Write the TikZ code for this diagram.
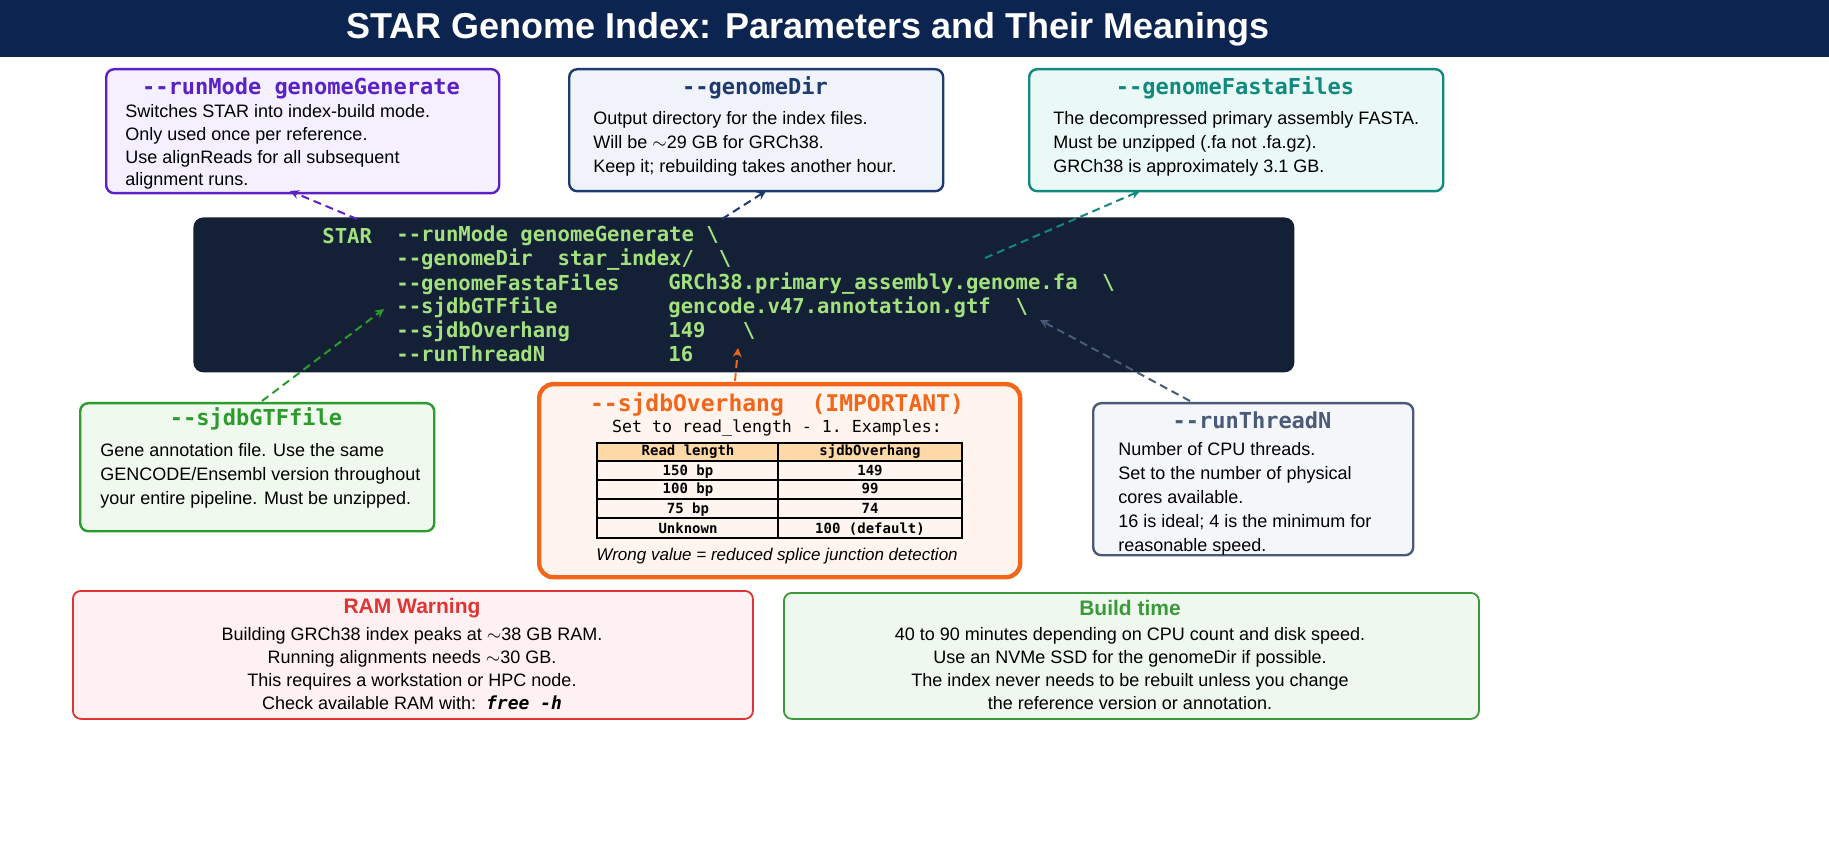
\documentclass[tikz,border=0pt]{standalone}
\usepackage{fontspec}
\setmainfont{Liberation Sans}
\setmonofont{DejaVu Sans Mono}
\usepackage{xcolor}
\usetikzlibrary{positioning}

\definecolor{navy}{HTML}{0B2550}
\definecolor{codebg}{HTML}{132035}
\definecolor{codegreen}{HTML}{A3E07E}
\definecolor{purp}{HTML}{5B21C6}
\definecolor{purpbg}{HTML}{F4F0FF}
\definecolor{dirblue}{HTML}{1E3A6E}
\definecolor{dirbg}{HTML}{F0F4FA}
\definecolor{teal}{HTML}{10897E}
\definecolor{tealbg}{HTML}{EAF8F6}
\definecolor{gtfgreen}{HTML}{2E9B2E}
\definecolor{gtfbg}{HTML}{F0F9EE}
\definecolor{orng}{HTML}{F2661B}
\definecolor{orngbg}{HTML}{FFF5EE}
\definecolor{thead}{HTML}{FDD9A8}
\definecolor{slate}{HTML}{4A5A78}
\definecolor{slatebg}{HTML}{F4F6F9}
\definecolor{ramred}{HTML}{E03434}
\definecolor{rambg}{HTML}{FFF1F1}
\definecolor{bldgreen}{HTML}{3A9A3A}
\definecolor{bldbg}{HTML}{EFF8EE}

\tikzset{
  box/.style={draw=#1, line width=1.2pt, rounded corners=4pt, anchor=north west, inner sep=0pt},
  ttl/.style={font=\ttfamily\bfseries\fontsize{11}{13}\selectfont, text=#1},
  body/.style={font=\fontsize{9}{12}\selectfont, align=left, anchor=north west, inner sep=0pt},
  cbody/.style={font=\fontsize{9}{11.5}\selectfont, align=center, anchor=north, inner sep=0pt},
  code/.style={font=\ttfamily\bfseries\fontsize{10.3}{12}\selectfont, text=codegreen, anchor=west, inner sep=0pt},
  link/.style={draw=#1, line width=1pt, dash pattern=on 4pt off 2.5pt, -stealth},
  cell/.style={font=\ttfamily\bfseries\fontsize{7}{8}\selectfont, inner sep=0pt, anchor=base}
}

\begin{document}
\begin{tikzpicture}[x=0.5pt, y=-0.5pt]
\useasboundingbox (0,0) rectangle (1829,860);
\fill[white] (0,0) rectangle (1829,860);
% title band
\fill[navy] (0,0) rectangle (1829,57);
\node (title) [font=\bfseries\fontsize{18}{20}\selectfont, text=white] at (808,29) {STAR Genome Index: Parameters and Their Meanings};

% top boxes
\node (runmode) [box=purp, fill=purpbg, minimum width=196.5pt, minimum height=62pt] at (105,68) {};
\node [ttl=purp] at (301,88) {--runMode genomeGenerate};
\node [body, font=\fontsize{9}{11.4}\selectfont] at (125,104) {Switches STAR into index-build mode.\\Only used once per reference.\\Use alignReads for all subsequent\\alignment runs.};

\node (gdir) [box=dirblue, fill=dirbg, minimum width=187pt, minimum height=61pt] at (568,68) {};
\node [ttl=dirblue] at (755,88) {--genomeDir};
\node [body] at (593,111) {Output directory for the index files.\\Will be $\sim$29 GB for GRCh38.\\Keep it; rebuilding takes another hour.};

\node (fasta) [box=teal, fill=tealbg, minimum width=207pt, minimum height=61pt] at (1028,68) {};
\node [ttl=teal] at (1235,88) {--genomeFastaFiles};
\node [body] at (1053,111) {The decompressed primary assembly FASTA.\\Must be unzipped (.fa not .fa.gz).\\GRCh38 is approximately 3.1 GB.};

% command block
\node (cmd) [fill=codebg, rounded corners=5pt, anchor=north west, minimum width=550.5pt, minimum height=77.5pt, inner sep=0pt] at (193,217) {};
\node [code] at (322,236) {STAR};
\node [code] at (396,236) {--runMode genomeGenerate \textbackslash};
\node [code] at (396,260) {--genomeDir\ \ star\_index/\ \ \textbackslash};
\node [code] at (396,284) {--genomeFastaFiles};
\node [code] at (668,284) {GRCh38.primary\_assembly.genome.fa\ \ \textbackslash};
\node [code] at (396,307) {--sjdbGTFfile};
\node [code] at (668,307) {gencode.v47.annotation.gtf\ \ \textbackslash};
\node [code] at (396,331) {--sjdbOverhang};
\node [code] at (668,331) {149\ \ \ \textbackslash};
\node [code] at (396,354) {--runThreadN};
\node [code] at (668,354) {16};

% middle boxes
\node (gtf) [box=gtfgreen, fill=gtfbg, minimum width=177pt, minimum height=64pt] at (79,402) {};
\node [ttl=gtfgreen] at (256,419) {--sjdbGTFfile};
\node [body] at (100,443) {Gene annotation file. Use the same\\GENCODE/Ensembl version throughout\\your entire pipeline. Must be unzipped.};

\node (ovh) [box=orng, line width=2.2pt, rounded corners=7pt, fill=orngbg, minimum width=240.5pt, minimum height=96.5pt] at (537,382) {};
\node [ttl=orng, font=\ttfamily\bfseries\fontsize{11.5}{13}\selectfont] at (777,405) {--sjdbOverhang\ \ (IMPORTANT)};
\node [font=\ttfamily\fontsize{8.3}{10}\selectfont] at (777,428) {Set to read\_length - 1. Examples:};
\fill[thead] (597,443) rectangle (962,461);
\draw[line width=0.6pt] (597,443) rectangle (962,538);
\foreach \y in {461,480,499,518} \draw[line width=0.6pt] (597,\y) -- (962,\y);
\draw[line width=0.6pt] (778,443) -- (778,538);
\foreach \a/\b/\y in {Read length/sjdbOverhang/456, 150 bp/149/475, 100 bp/99/494, 75 bp/74/513, Unknown/100 (default)/533}
  { \node [cell] at (688,\y) {\a}; \node [cell] at (870,\y) {\b}; }
\node [font=\itshape\fontsize{8.5}{10}\selectfont] at (777,556) {Wrong value = reduced splice junction detection};

\node (threads) [box=slate, fill=slatebg, minimum width=160pt, minimum height=76pt] at (1092,402) {};
\node [ttl=slate] at (1252,420) {--runThreadN};
\node [body] at (1118,442) {Number of CPU threads.\\Set to the number of physical\\cores available.\\16 is ideal; 4 is the minimum for\\reasonable speed.};

% bottom notes
\node (ram) [box=ramred, line width=0.9pt, fill=rambg, minimum width=340pt, minimum height=64pt] at (72,590) {};
\node [font=\bfseries\fontsize{10.5}{12}\selectfont, text=ramred] at (412,608) {RAM Warning};
\node [cbody] at (412,627) {Building GRCh38 index peaks at $\sim$38 GB RAM.\\Running alignments needs $\sim$30 GB.\\This requires a workstation or HPC node.\\Check available RAM with:\ \ {\ttfamily\bfseries\itshape free -h}};

\node (build) [box=bldgreen, line width=0.9pt, fill=bldbg, minimum width=347.5pt, minimum height=63pt] at (783,592) {};
\node [font=\bfseries\fontsize{10.5}{12}\selectfont, text=bldgreen] at (1130,608) {Build time};
\node [cbody] at (1130,627) {40 to 90 minutes depending on CPU count and disk speed.\\Use an NVMe SSD for the genomeDir if possible.\\The index never needs to be rebuilt unless you change\\the reference version or annotation.};

% connectors
\coordinate (rmA) at (357,219); \coordinate (rmB) at (290,191);
\coordinate (gdA) at (722,219); \coordinate (gdB) at (766,191);
\coordinate (faA) at (985,258); \coordinate (faB) at (1140,191);
\coordinate (gtA) at (262,401); \coordinate (gtB) at (384,309);
\coordinate (ovA) at (735,381); \coordinate (ovB) at (738,348);
\coordinate (thA) at (1190,401); \coordinate (thB) at (1040,320);
\draw [link=purp] (rmA) -- (rmB);
\draw [link=dirblue] (gdA) -- (gdB);
\draw [link=teal] (faA) -- (faB);
\draw [link=gtfgreen] (gtA) -- (gtB);
\draw [link=orng] (ovA) -- (ovB);
\draw [link=slate] (thA) -- (thB);
\end{tikzpicture}
\end{document}
